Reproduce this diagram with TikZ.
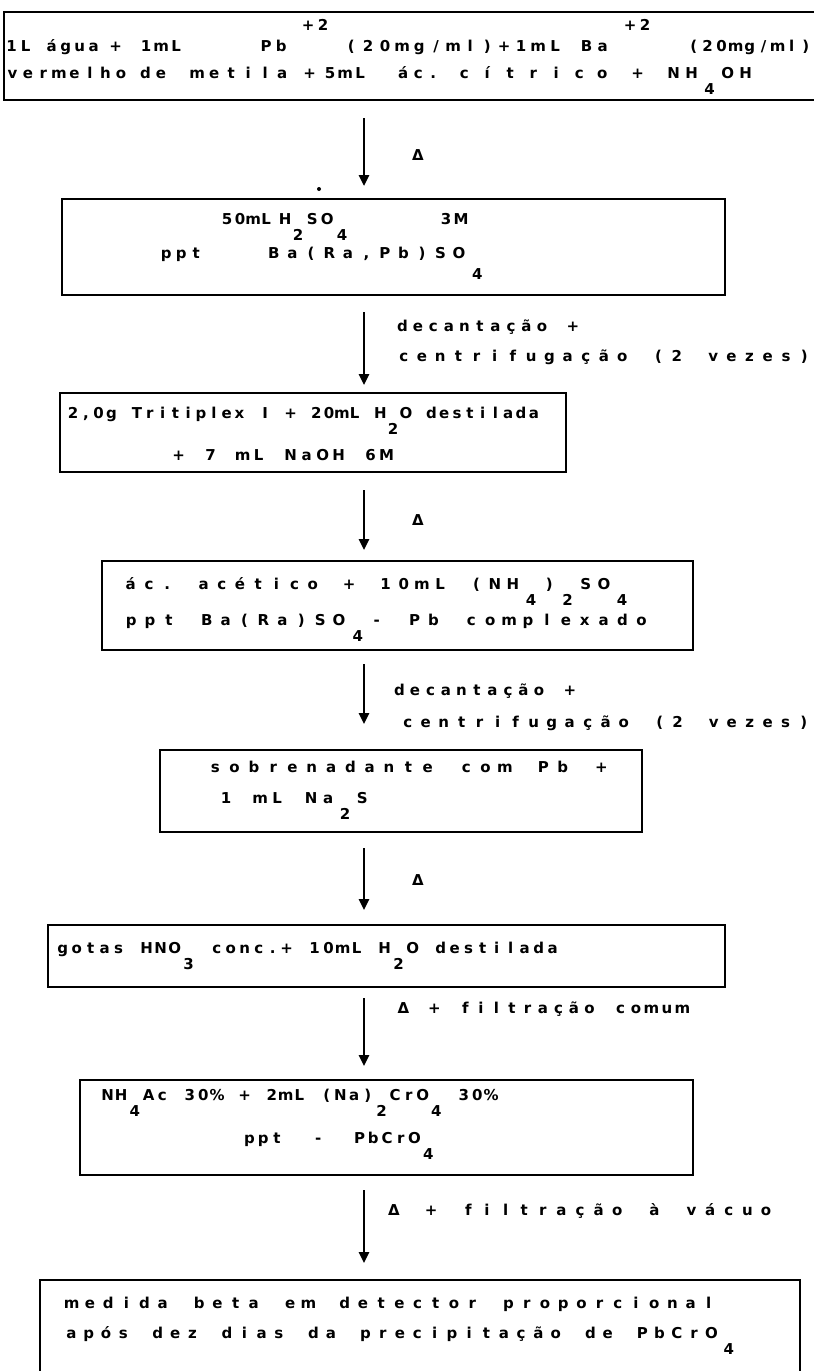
\documentclass[tikz,border=0pt]{standalone}
\usepackage{fontspec}
\setmainfont{DejaVu Sans}
\usetikzlibrary{arrows.meta}
\newlength\cw
\def\cellsEnd{CELLSEND}
\def\cellsA#1{\ifx\cellsEnd#1\else\makebox[\cw][c]{#1}\expandafter\cellsA\fi}
\newcommand\wrd[3]{\rlap{\hspace*{#1pt}\setlength\cw{#2pt}\cellsA#3\cellsEnd}}
\newcommand\dn[1]{\raisebox{-16pt}{#1}}
\newcommand\dnn[1]{\raisebox{-21pt}{#1}}
\newcommand\up[1]{\raisebox{21pt}{#1}}
\newcommand\tfont{\bfseries\fontsize{15}{17}\selectfont}
\begin{document}
\begin{tikzpicture}[x=1pt,y=-1pt,
  box/.style={draw, line width=2.2pt, inner sep=0pt, outer sep=0pt},
  txt/.style={anchor=base west, inner sep=0pt, font=\tfont},
  dlt/.style={inner sep=0pt, font=\tfont},
  arr/.style={line width=2.6pt, -{Triangle[width=10pt,length=11pt]}}]
\useasboundingbox (0,0) rectangle (814,1371);
\clip (0,0) rectangle (814,1371);
\coordinate (ax) at (364,0);
% boxes
\node[box, minimum width=826pt, minimum height=88pt] (b1) at (417,56) {};
\node[box, minimum width=663pt, minimum height=96pt] (b2) at (393.5,247) {};
\node[box, minimum width=506pt, minimum height=79pt] (b3) at (313,432.5) {};
\node[box, minimum width=591pt, minimum height=89pt] (b4) at (397.5,605.5) {};
\node[box, minimum width=482pt, minimum height=82pt] (b5) at (401,791) {};
\node[box, minimum width=677pt, minimum height=62pt] (b6) at (386.5,956) {};
\node[box, minimum width=613pt, minimum height=95pt] (b7) at (386.5,1127.5) {};
\node[box, minimum width=760pt, minimum height=120pt] (b8) at (420,1340) {};
% box texts
\node[txt] (t1a) at (0,51) {\wrd{4}{14}{1L}\wrd{44}{14}{água}\wrd{108}{14}{+}\wrd{138}{15}{1mL}\wrd{258}{15}{Pb}\wrd{300}{15}{{\up+}{\up2}}\wrd{342}{17}{(20mg/ml)+1mL}\wrd{578}{16}{Ba}\wrd{622}{15}{{\up+}{\up2}}\wrd{686}{14}{(20mg/ml)}};
\node[txt] (t1b) at (0,78) {\wrd{4}{15.5}{vermelho}\wrd{137}{15.5}{de}\wrd{188}{17}{metila}\wrd{302}{14}{+}\wrd{322}{15}{5mL}\wrd{395}{15}{ác.}\wrd{452}{23}{cítrico}\wrd{630}{14}{+}\wrd{664}{18}{NH{\dn4}OH}};
\node[txt] (t2a) at (0,224) {\wrd{220}{13}{50mL}\wrd{278}{13}{H{\dn2}}\wrd{304}{15}{SO{\dn4}}\wrd{438}{15}{3M}};
\node[txt] (t2b) at (0,258) {\wrd{158}{15}{ppt}\wrd{264}{18.5}{Ba(Ra,Pb)SO{\dnn4}}};
\node[txt] (t3a) at (0,418) {\wrd{66}{12.8}{2,0g~Tritiplex~I~+~20mL~H{\dn2}O~destilada}};
\node[txt] (t3b) at (0,460) {\wrd{170}{16}{+~7~mL~NaOH~6M}};
\node[txt] (t4a) at (0,589) {\wrd{121}{18.2}{ác.~acético~+~10mL~(NH{\dn4}){\dn2}SO{\dn4}}};
\node[txt] (t4b) at (0,625) {\wrd{121}{18.9}{ppt~Ba(Ra)SO{\dn4}-~Pb~complexado}};
\node[txt] (t5a) at (0,772) {\wrd{205}{19.3}{sobrenadante~com~Pb~+}};
\node[txt] (t5b) at (0,803) {\wrd{217}{17}{1~mL~Na{\dn2}S}};
\node[txt] (t6a) at (0,953) {\wrd{55}{14}{gotas~HNO{\dn3}~conc.+~10mL~H{\dn2}O~destilada}};
\node[txt] (t7a) at (0,1100) {\wrd{100}{13.7}{NH{\dn4}Ac~30\%~+~2mL~(Na){\dn2}CrO{\dn4}~30\%}};
\node[txt] (t7b) at (0,1143) {\wrd{242}{13.75}{ppt~~-~~PbCrO{\dn4}}};
\node[txt] (t8a) at (0,1308) {\wrd{62}{18.2}{medida~beta~em~detector~proporcional}};
\node[txt] (t8b) at (0,1338) {\wrd{62}{17.3}{após~dez~dias~da~precipitação~de~PbCrO{\dn4}}};
% arrows
\draw[arr, shorten <=18pt, shorten >=13pt] (b1.south -| ax) -- (b2.north -| ax);
\draw[arr, shorten <=17pt, shorten >=8pt] (b2.south -| ax) -- (b3.north -| ax);
\draw[arr, shorten <=18pt, shorten >=11pt] (b3.south -| ax) -- (b4.north -| ax);
\draw[arr, shorten <=14pt, shorten >=26pt] (b4.south -| ax) -- (b5.north -| ax);
\draw[arr, shorten <=16pt, shorten >=15pt] (b5.south -| ax) -- (b6.north -| ax);
\draw[arr, shorten <=11pt, shorten >=14pt] (b6.south -| ax) -- (b7.north -| ax);
\draw[arr, shorten <=15pt, shorten >=17pt] (b7.south -| ax) -- (b8.north -| ax);
% arrow labels
\node[dlt] (d1) at (418,155) {Δ};
\node[dlt] (d3) at (418,520) {Δ};
\node[dlt] (d5) at (418,880) {Δ};
\node[txt] (l2a) at (0,331) {\wrd{394}{15.5}{decantação~+}};
\node[txt] (l2b) at (0,361) {\wrd{394}{18.2}{centrifugação~(2~vezes)}};
\node[txt] (l4a) at (0,695) {\wrd{391}{15.5}{decantação~+}};
\node[txt] (l4b) at (0,727) {\wrd{398}{18}{centrifugação~(2~vezes)}};
\node[txt] (l6a) at (0,1013) {\wrd{395}{15.5}{Δ~+~filtração~comum}};
\node[txt] (l7a) at (0,1215) {\wrd{384}{18.6}{Δ~+~filtração~à~vácuo}};
\fill (319,189) circle (2pt);
\end{tikzpicture}
\end{document}
